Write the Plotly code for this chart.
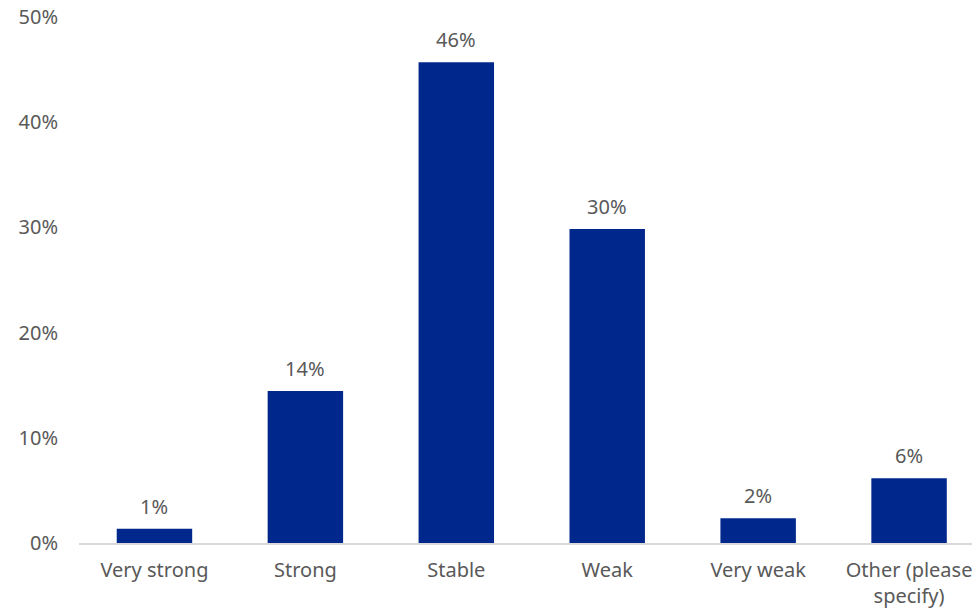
import plotly.graph_objects as go

categories = ["Very strong", "Strong", "Stable", "Weak", "Very weak", "Other (please<br>specify)"]
values = [1.35, 14.45, 45.7, 29.85, 2.35, 6.15]
tick_vals = [0, 10, 20, 30, 40, 50]
tick_text = ["0%", "10%", "20%", "30%", "40%", "50%"]

bar_color = "#00288C"
text_color = "#595959"

fig = go.Figure()
fig.add_trace(go.Bar(
    x=categories,
    y=values,
    marker=dict(color=bar_color, line=dict(width=0)),
    hoverinfo="skip",
))

# value labels above bars
for c, v in zip(categories, values):
    fig.add_annotation(
        x=c, y=v, text=f"{round(v)}%", showarrow=False,
        yanchor="bottom", yshift=7,
        font=dict(size=20, color=text_color),
    )

# page body adds 8px around the figure, so size/margins are trimmed to match
fig.update_layout(
    width=972, height=605,
    margin=dict(l=71, r=0, t=9, b=70),
    plot_bgcolor="white", paper_bgcolor="white",
    font=dict(family="Noto Sans", size=20, color=text_color),
    bargap=0.5,
    showlegend=False,
)
fig.update_xaxes(
    range=[-0.5, 5.47], automargin=False,
    showline=True, linecolor="#D9D9D9", linewidth=1.5,
    ticks="", showgrid=False, ticklabelstandoff=8,
    tickfont=dict(size=20, color=text_color),
)
fig.update_yaxes(
    range=[0, 50], tickvals=tick_vals, ticktext=tick_text, automargin=False,
    showgrid=False, zeroline=False, showline=False,
    ticklabelstandoff=20, ticklabeloverflow="allow",
    tickfont=dict(size=20, color=text_color),
)

fig.write_html("out.html")
